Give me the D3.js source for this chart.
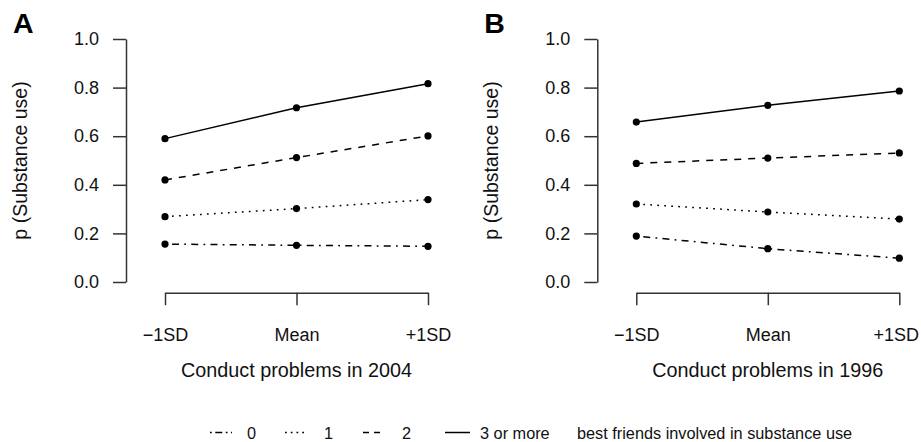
<!DOCTYPE html>
<html>
<head>
<meta charset="utf-8">
<script src="https://cdn.jsdelivr.net/npm/d3@7"></script>
<style>
  html, body { margin: 0; padding: 0; background: #fff; }
  svg { display: block; }
  text { font-family: "Liberation Sans", Arial, Helvetica, sans-serif; fill: #111; }
</style>
</head>
<body>
<svg id="chart" width="921" height="442"></svg>
<script>
// ---- data ----
const categories = ["\u22121SD", "Mean", "+1SD"];
const groups = ["0", "1", "2", "3 or more"];
const yTicks = [0, 0.2, 0.4, 0.6, 0.8, 1.0];
const panelLetters = ["A", "B"];
const xTitles = ["Conduct problems in 2004", "Conduct problems in 1996"];
const yTitle = "p (Substance use)";
const legendTitle = "best friends involved in substance use";

// Panel A (2004)
const a0 = [0.156, 0.151, 0.147];
const a1 = [0.269, 0.302, 0.339];
const a2 = [0.420, 0.512, 0.601];
const a3 = [0.590, 0.717, 0.816];
// Panel B (1996)
const b0 = [0.189, 0.137, 0.098];
const b1 = [0.321, 0.288, 0.259];
const b2 = [0.488, 0.510, 0.531];
const b3 = [0.658, 0.727, 0.786];

const panels = [
  { letter: panelLetters[0], title: xTitles[0], series: [a0, a1, a2, a3] },
  { letter: panelLetters[1], title: xTitles[1], series: [b0, b1, b2, b3] }
];

// ---- styles ----
const dashes = ["1.75 5.25 7 5.25", "1.75 5.25", "7 7", null];
const legendDashes = ["1.75 3.5 7 3.5", "1.75 4", "6 5", null];
const axisColor = "#333";
const tickFont = "18px";

const svg = d3.select("#chart");

const panelShift = 471.3;
const axisX = 126;     // y axis position in panel A
const yTop = 39, yBottom = 282;
const xAxisY = 292.7;

const y = d3.scaleLinear().domain([0, 1]).range([yBottom, yTop]);
const x = d3.scalePoint().domain(categories).range([axisX + 39, axisX + 302]);

panels.forEach((p, pi) => {
  const g = svg.append("g").attr("transform", `translate(${pi * panelShift},0)`);

  // panel letter
  g.append("text")
    .attr("x", 13).attr("y", 33)
    .style("font-size", "28.5px").style("font-weight", "bold")
    .style("fill", "#000")
    .text(p.letter);

  // y axis
  const ya = g.append("g")
    .attr("transform", `translate(${axisX},0)`)
    .call(d3.axisLeft(y).tickValues(yTicks).tickFormat(d3.format(".1f"))
      .tickSize(13).tickSizeOuter(0).tickPadding(14));
  ya.select(".domain").attr("stroke", axisColor).attr("stroke-width", 1.5);
  ya.selectAll(".tick line").attr("stroke", axisColor).attr("stroke-width", 1.5);
  ya.selectAll(".tick text")
    .style("font-size", tickFont).style("font-family", "'Liberation Sans', Arial, sans-serif")
    .attr("fill", "#111");

  // x axis
  const xa = g.append("g")
    .attr("transform", `translate(0,${xAxisY})`)
    .call(d3.axisBottom(x).tickSize(12.5).tickSizeOuter(0));
  xa.select(".domain").attr("stroke", axisColor).attr("stroke-width", 1.5);
  xa.selectAll(".tick line").attr("stroke", axisColor).attr("stroke-width", 1.5);
  xa.selectAll(".tick text")
    .attr("y", 48.5).attr("dy", 0)
    .style("font-size", tickFont).style("font-family", "'Liberation Sans', Arial, sans-serif")
    .attr("fill", "#111");
  // keep the right-most label of the right panel inside the page
  if (pi === panels.length - 1) {
    xa.selectAll(".tick text").filter((d, i, n) => i === n.length - 1).attr("dx", -3.5);
  }

  // y title
  g.append("text")
    .attr("transform", `translate(${axisX - 99},${(yTop + yBottom) / 2}) rotate(-90)`)
    .attr("text-anchor", "middle")
    .style("font-size", "19.5px")
    .text(yTitle);

  // x title
  g.append("text")
    .attr("x", (x.range()[0] + x.range()[1]) / 2)
    .attr("y", 377)
    .attr("text-anchor", "middle")
    .style("font-size", "19.8px")
    .text(p.title);

  // lines
  const line = d3.line().x((d, i) => x(categories[i])).y(d => y(d));
  p.series.forEach((s, si) => {
    g.append("path")
      .datum(s)
      .attr("d", line)
      .attr("fill", "none")
      .attr("stroke", "#000")
      .attr("stroke-width", 1.5)
      .attr("stroke-dasharray", dashes[si]);
    g.selectAll(null)
      .data(s)
      .enter().append("circle")
      .attr("cx", (d, i) => x(categories[i]))
      .attr("cy", d => y(d))
      .attr("r", 3.6)
      .attr("fill", "#000");
  });
});

// ---- legend ----
const legendY = 432.5;
const legendItems = [
  { x0: 210, x1: 232, tx: 247 },
  { x0: 285, x1: 307, tx: 324 },
  { x0: 363, x1: 385, tx: 402 },
  { x0: 445, x1: 470, tx: 480 }
];
const lg = svg.append("g");
groups.forEach((gName, i) => {
  const it = legendItems[i];
  lg.append("line")
    .attr("x1", it.x0).attr("x2", it.x1)
    .attr("y1", legendY).attr("y2", legendY)
    .attr("stroke", "#000").attr("stroke-width", 1.5)
    .attr("stroke-dasharray", legendDashes[i]);
  lg.append("text")
    .attr("x", it.tx).attr("y", legendY + 6)
    .style("font-size", "16.3px")
    .text(gName);
});
lg.append("text")
  .attr("x", 577).attr("y", legendY + 6)
  .style("font-size", "16.3px")
  .text(legendTitle);
</script>
</body>
</html>
